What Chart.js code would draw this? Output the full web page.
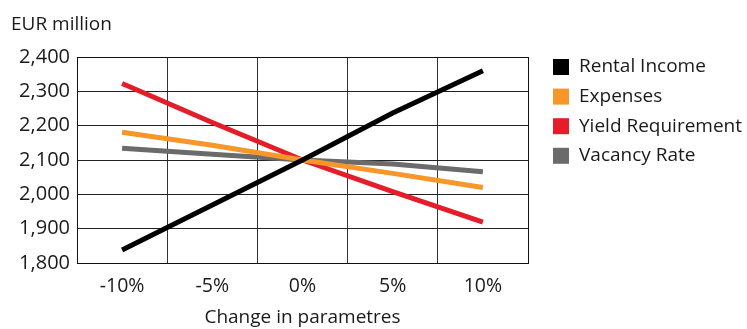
<!DOCTYPE html>
<html>
<head>
<meta charset="utf-8">
<script src="https://cdn.jsdelivr.net/npm/chart.js@4"></script>
<style>
  html, body { margin: 0; padding: 0; background: #fff; }
  #wrap { width: 747px; height: 329px; position: relative; }
</style>
</head>
<body>
<div id="wrap"><canvas id="c" width="747" height="329"></canvas></div>
<script>
const categories = ['-10%', '-5%', '0%', '5%', '10%'];
const rentalIncome = [1838, 1969, 2100, 2237, 2360];
const expenses = [2181, 2143, 2100, 2061, 2020];
const yieldRequirement = [2323, 2209, 2100, 2008, 1919];
const vacancyRate = [2134, 2117, 2100, 2088, 2066];
const yTicks = [1800, 1900, 2000, 2100, 2200, 2300, 2400];
const seriesNames = ['Rental Income', 'Expenses', 'Yield Requirement', 'Vacancy Rate'];
const seriesColors = ['#000000', '#f7962b', '#e31e2a', '#6b6b6b'];
const unitLabel = 'EUR million';
const xTitle = 'Change in parametres';

const FONT = "'Open Sans', 'Noto Sans', sans-serif";
const TEXT = '#1a1a1a';

const seriesValues = [rentalIncome, expenses, yieldRequirement, vacancyRate];

// Legend and unit caption drawn on the canvas beside the plot
const sideLegend = {
  id: 'sideLegend',
  afterDraw(chart) {
    const ctx = chart.ctx;
    ctx.save();
    ctx.font = '19px ' + FONT;
    ctx.fillStyle = TEXT;
    ctx.textBaseline = 'middle';
    ctx.textAlign = 'left';
    ctx.fillText(unitLabel, 11, 25);
    chart.data.datasets.forEach((ds, i) => {
      const y = 67 + i * 29.6;
      ctx.fillStyle = ds.borderColor;
      ctx.fillRect(553, y - 8, 16, 16);
      ctx.fillStyle = TEXT;
      ctx.fillText(ds.label, 579, y);
    });
    ctx.restore();
  }
};

new Chart(document.getElementById('c'), {
  type: 'line',
  data: {
    labels: categories,
    datasets: seriesValues.map((vals, i) => ({
      label: seriesNames[i],
      data: vals,
      borderColor: seriesColors[i],
      backgroundColor: seriesColors[i],
      borderWidth: 5,
      pointRadius: 0,
      tension: 0,
      fill: false
    }))
  },
  options: {
    responsive: false,
    animation: false,
    layout: { padding: { top: 57, right: 219, left: 0, bottom: 0 } },
    plugins: {
      legend: { display: false },
      tooltip: { enabled: false }
    },
    scales: {
      x: {
        type: 'category',
        offset: true,
        grid: { offset: true, color: '#333', lineWidth: 1, drawTicks: false },
        border: { color: '#111', width: 1 },
        ticks: { color: TEXT, font: { family: FONT, size: 19.5 }, padding: 12 },
        title: {
          display: true, text: xTitle, color: TEXT,
          font: { family: FONT, size: 19 }, padding: { top: 2, bottom: 0 }
        },
        afterFit(scale) { scale.height = 66; }
      },
      y: {
        min: 1800, max: 2400,
        afterBuildTicks(scale) { scale.ticks = yTicks.map(v => ({ value: v })); },
        grid: { color: '#222', lineWidth: 1, drawTicks: false },
        border: { color: '#111', width: 1 },
        ticks: {
          color: TEXT, font: { family: FONT, size: 20 }, padding: 7,
          callback: v => v.toLocaleString('en-US')
        },
        afterFit(scale) { scale.width = 77; }
      }
    }
  },
  plugins: [sideLegend, {
    id: 'rightBorder',
    afterDraw(chart) {
      const a = chart.chartArea, ctx = chart.ctx;
      ctx.save();
      ctx.strokeStyle = '#111';
      ctx.lineWidth = 1;
      ctx.beginPath();
      ctx.moveTo(a.right + 0.5, a.top);
      ctx.lineTo(a.right + 0.5, a.bottom);
      ctx.moveTo(a.left, a.top + 0.5);
      ctx.lineTo(a.right, a.top + 0.5);
      ctx.stroke();
      ctx.restore();
    }
  }]
});
</script>
</body>
</html>
